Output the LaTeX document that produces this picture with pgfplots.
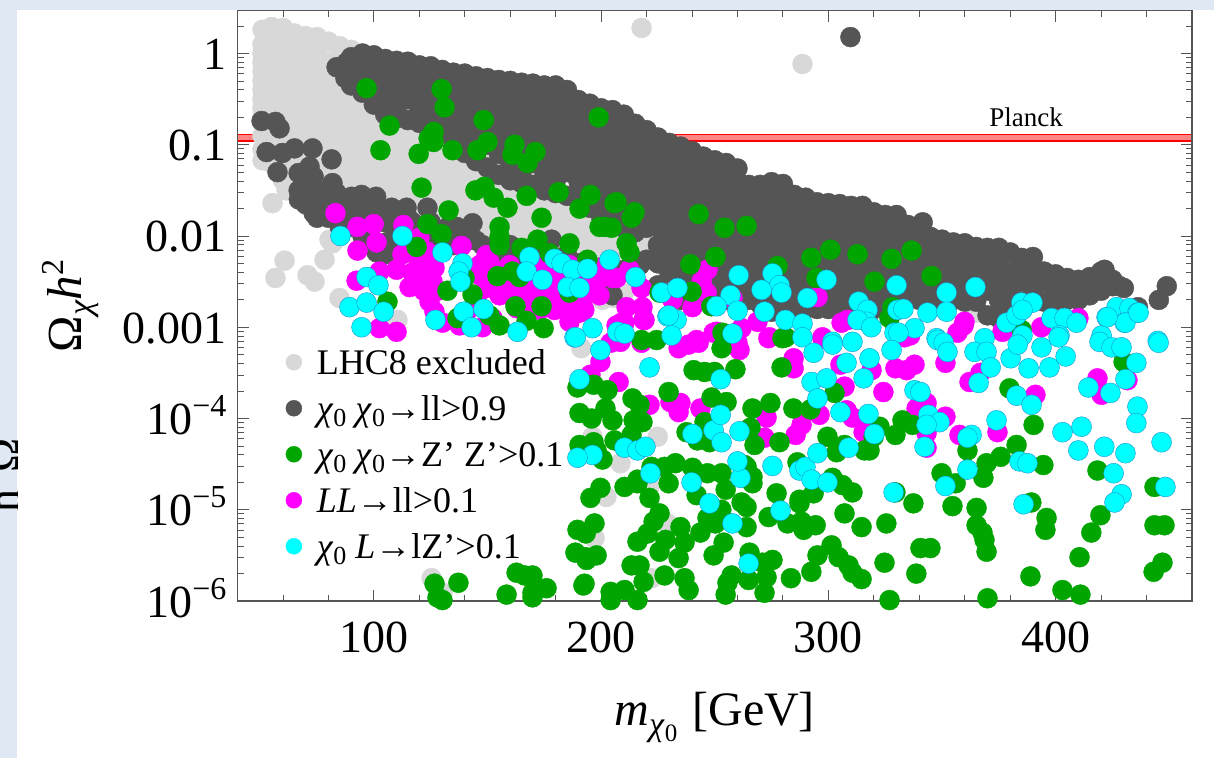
\documentclass[border=0pt]{standalone}
\usepackage{pgfplots}
\pgfplotsset{compat=1.18}
\usepackage{fontspec}
\setmainfont{Liberation Serif}
\definecolor{bgblue}{HTML}{E0E8F4}
\definecolor{ptgrey}{HTML}{D8D8D8}
\definecolor{ptdark}{HTML}{555555}
\definecolor{ptgreen}{HTML}{00A500}
\definecolor{ptmag}{HTML}{FF00FF}
\definecolor{ptcyan}{HTML}{00FFFF}
\definecolor{axisgrey}{HTML}{555555}
\newcommand{\tenexp}[1]{10\raisebox{18pt}{\fontsize{32}{32}\selectfont −#1}}
\newcommand{\chiz}{\textit{χ}\raisebox{-6pt}{\fontsize{26}{26}\selectfont 0}}
\newcommand{\lstrut}{\hspace*{15pt}}
\begin{document}
\begin{tikzpicture}[x=1pt,y=1pt]
\useasboundingbox (0,0) rectangle (1214,758);
\fill[bgblue] (0,0) rectangle (1214,758);
\fill[white] (17,0) rectangle (1214,748);
\begin{scope}
\clip (0,0) rectangle (17,758);
\node[rotate=90,anchor=base,inner sep=0pt,font=\fontsize{46}{46}\selectfont] at (20,283) {n\hspace{17pt}Ω};
\end{scope}
\begin{axis}[
  at={(237.5pt,157pt)},anchor=south west,
  width=954.5pt,height=590.3pt,scale only axis,
  xmin=40,xmax=460,ymin=-6,ymax=0.469,
  axis on top,
  axis line style={color=axisgrey,line width=1.1pt},
  tick style={color=axisgrey,line width=0.9pt},
  major tick length=11pt,minor tick length=6pt,
  xtick={100,200,300,400},xticklabels={100,200,300,400},
  minor xtick={60,80,120,140,160,180,220,240,260,280,320,340,360,380,420,440},
  ytick={-6,-5,-4,-3,-2,-1,0},
  yticklabels={\tenexp{6},\tenexp{5},\tenexp{4},0.001,0.01,0.1,1},
  minor ytick={-5.699,-5.523,-5.398,-5.301,-5.222,-5.155,-5.097,-5.046,
    -4.699,-4.523,-4.398,-4.301,-4.222,-4.155,-4.097,-4.046,
    -3.699,-3.523,-3.398,-3.301,-3.222,-3.155,-3.097,-3.046,
    -2.699,-2.523,-2.398,-2.301,-2.222,-2.155,-2.097,-2.046,
    -1.699,-1.523,-1.398,-1.301,-1.222,-1.155,-1.097,-1.046,
    -0.699,-0.523,-0.398,-0.301,-0.222,-0.155,-0.097,-0.046,0.301},
  tick label style={font=\fontsize{46}{46}\selectfont,inner sep=0pt},
  xticklabel style={anchor=base,yshift=-51pt},
  yticklabel style={anchor=base east,xshift=-11pt,yshift=-16pt},
  xlabel={\fontsize{48}{48}\selectfont\textit{m}\raisebox{-10pt}{\fontsize{34}{34}\selectfont\textit{χ}\raisebox{-6pt}{\fontsize{25}{25}\selectfont 0}}\hspace{15pt}[GeV]},
  ylabel={\fontsize{49}{49}\selectfont Ω\raisebox{-10pt}{\fontsize{34}{34}\selectfont\textit{χ}}\textit{h}\raisebox{18pt}{\fontsize{32}{32}\selectfont 2}},
  every axis x label/.style={at={(rel axis cs:0.5,0)},anchor=base,yshift=-124pt},
  every axis y label/.style={at={(rel axis cs:0,0.5)},rotate=90,anchor=base,yshift=155.5pt},
  pts/.style={only marks,mark=*,mark size=10pt,color=#1,mark options={draw=none,fill=#1}},
  legend image code/.code={\path[#1,mark size=8pt] plot coordinates {(0pt,5pt)};},
  legend style={at={(axis cs:61.2,-3.25)},anchor=north west,draw=none,fill=none,inner sep=0pt,
    font=\fontsize{36}{36}\selectfont,row sep=12pt,column sep=0pt,
    nodes={inner sep=0pt,text height=24pt,text depth=10pt}},
  legend cell align=left,
]
% LHC8 excluded
\addplot[pts=ptgrey] coordinates {
(51,.26)(51,.1)(51,0)(51,-.1)(51,-.2)(51,-.3)(51,-.4)(51,-.5)(51,-.6)(51,-.7)(51,-.9)(51,-1.05)(51,-1.17)
(55,.29)(55,.2)(55,0)(55,-.2)(55,-.4)(55,-.6)(55,-.8)(55,-1)(55,-1.2)
(60,.28)(60,.1)(60,-.1)(60,-.3)(60,-.5)(60,-.7)(60,-.9)(60,-1.1)(60,-1.39)
(65,.22)(65,0)(65,-.2)(65,-.4)(65,-.6)(65,-.8)(65,-1)(65,-1.2)(65,-1.5)
(70,.19)(70,.1)(70,-.1)(70,-.3)(70,-.5)(70,-.7)(70,-.9)(70,-1.1)(70,-1.3)(70,-1.66)
(75,.18)(75,0)(75,-.2)(75,-.4)(75,-.6)(75,-.8)(75,-1)(75,-1.2)(75,-1.4)(75,-1.6)
(80,.13)(80,-.1)(80,-.3)(80,-.5)(80,-.7)(80,-.9)(80,-1.1)(80,-1.3)(80,-1.5)(80,-1.7)
(85,.08)(85,0)(85,-.2)(85,-.4)(85,-.6)(85,-.8)(85,-1)(85,-1.2)(85,-1.4)(85,-1.6)
(90,.04)(90,-.1)(90,-.3)(90,-.5)(90,-.7)(90,-.9)(90,-1.1)(90,-1.3)(90,-1.5)(90,-1.7)
(95,-.2)(95,-.4)(95,-.6)(95,-.8)(95,-1)(95,-1.2)(95,-1.4)(95,-1.6)
(100,-.3)(100,-.5)(100,-.7)(100,-.9)(100,-1.1)(100,-1.3)(100,-1.5)(100,-1.7)
(105,-.6)(105,-.8)(105,-1)(105,-1.2)(105,-1.4)(105,-1.6)
(110,-.7)(110,-.9)(110,-1.1)(110,-1.3)(110,-1.5)(110,-1.7)
(115,-.6)(115,-.8)(115,-1)(115,-1.2)(115,-1.4)(115,-1.6)
(120,-.7)(120,-.9)(120,-1.1)(120,-1.3)(120,-1.5)(120,-1.7)
(125,-.8)(125,-1)(125,-1.2)(125,-1.4)(125,-1.6)
(130,-.9)(130,-1.1)(130,-1.3)(130,-1.5)(130,-1.7)
(135,-1)(135,-1.2)(135,-1.4)(135,-1.6)(135,-1.8)
(140,-1.1)(140,-1.3)(140,-1.5)(140,-1.7)
(145,-1.2)(145,-1.4)(145,-1.6)(145,-1.8)
(150,-1.1)(150,-1.3)(150,-1.5)(150,-1.7)(150,-1.9)
(155,-1.2)(155,-1.4)(155,-1.6)(155,-1.8)(155,-2)
(160,-1.3)(160,-1.5)(160,-1.7)(160,-1.9)(160,-2.1)
(165,-1.4)(165,-1.6)(165,-1.8)(165,-2)
(170,-1.3)(170,-1.5)(170,-1.7)(170,-1.9)(170,-2.1)
(175,-1.4)(175,-1.6)(175,-1.8)(175,-2)
(180,-1.5)(180,-1.7)(180,-1.9)(180,-2.1)
(185,-1.6)(185,-1.8)(185,-2)(185,-2.2)
(190,-1.7)(190,-1.9)(190,-2.1)
(195,-1.6)(195,-1.8)(195,-2)(195,-2.2)
(200,-1.7)(200,-1.9)(200,-2.1)
(205,-1.8)(205,-2)(205,-2.2)
(210,-1.9)(210,-2.1)(215,-2)(215,-2.1)(218.7,-2.09)
(200.6,-2.70)(206,-2.68)(210,-2.62)
(217.8,.28)(288.6,-.115)
(55.4,-1.64)(60.7,-2.27)(56.7,-2.46)(70.8,-2.43)(73.9,-2.50)(78.3,-2.26)(81.8,-2.08)(84.9,-2.68)(110.4,-2.92)(80.5,-2.04)(61.6,-1.50)
(191.3,-3.23)(196.2,-4.20)(224.9,-4.20)(208.5,-4.49)(202.3,-4.86)(197.1,-5.31)(221.3,-4.75)(229.2,-5.15)(222.2,-5.75)(190.5,-6.01)(198,-6.01)(130.2,-5.91)(125.4,-5.75)
(274.9,-2.72)(283.7,-2.71)(322.5,-2.79)(365.2,-2.84)(378.4,-2.79)(359.9,-2.65)
};
% chi0 chi0 -> ll
\addplot[pts=ptdark] coordinates {
(309.7,.18)
(83.6,-.15)(87.5,-.27)(88,-.1)
(90,-.04)(90,-.2)(90,-.35)
(95,0)(95,-.1)(95,-.3)(95,-.43)
(100,-.02)(100,-.2)(100,-.4)(100,-.56)
(105,-.06)(105,-.1)(105,-.3)(105,-.5)(105,-.67)
(110,-.08)(110,-.2)(110,-.4)(110,-.6)(110,-.71)
(115,-.09)(115,-.3)(115,-.5)(115,-.73)
(120,-.13)(120,-.2)(120,-.4)(120,-.6)(120,-.76)
(125,-.14)(125,-.3)(125,-.5)(125,-.7)(125,-.84)
(130,-.18)(130,-.4)(130,-.6)(130,-.8)(130,-.87)
(135,-.21)(135,-.3)(135,-.5)(135,-.7)(135,-.9)(135,-1.02)
(140,-.22)(140,-.4)(140,-.6)(140,-.8)(140,-1)(140,-1.09)
(145,-.25)(145,-.3)(145,-.5)(145,-.7)(145,-.9)(145,-1.1)(145,-1.18)
(150,-.27)(150,-.4)(150,-.6)(150,-.8)(150,-1)(150,-1.25)
(155,-.29)(155,-.5)(155,-.7)(155,-.9)(155,-1.1)(155,-1.33)
(160,-.30)(160,-.4)(160,-.6)(160,-.8)(160,-1)(160,-1.2)(160,-1.39)
(165,-.32)(165,-.5)(165,-.7)(165,-.9)(165,-1.1)(165,-1.3)(165,-1.42)
(170,-.33)(170,-.4)(170,-.6)(170,-.8)(170,-1)(170,-1.2)(170,-1.44)
(175,-.35)(175,-.5)(175,-.7)(175,-.9)(175,-1.1)(175,-1.3)(175,-1.5)
(180,-.35)(180,-.4)(180,-.6)(180,-.8)(180,-1)(180,-1.2)(180,-1.4)(180,-1.53)
(185,-.40)(185,-.5)(185,-.7)(185,-.9)(185,-1.1)(185,-1.3)(185,-1.56)
(190,-.51)(190,-.6)(190,-.8)(190,-1)(190,-1.2)(190,-1.4)(190,-1.61)
(195,-.55)(195,-.7)(195,-.9)(195,-1.1)(195,-1.3)(195,-1.5)(195,-1.69)
(200,-.60)(200,-.8)(200,-1)(200,-1.2)(200,-1.4)(200,-1.6)(200,-1.79)
(205,-.62)(205,-.7)(205,-.9)(205,-1.1)(205,-1.3)(205,-1.5)(205,-1.7)(205,-1.85)
(210,-.67)(210,-.8)(210,-1)(210,-1.2)(210,-1.4)(210,-1.6)(210,-1.8)(210,-1.91)
(215,-.77)(215,-.9)(215,-1.1)(215,-1.3)(215,-1.5)(215,-1.7)(215,-1.96)
(220,-.84)(220,-1)(220,-1.2)(220,-1.4)(220,-1.6)(220,-1.8)(220,-1.91)(220,-2.26)
(225,-.92)(225,-1.1)(225,-1.3)(225,-1.5)(225,-1.7)(225,-1.9)(225,-2.1)(225,-2.3)(225,-2.54)
(230,-.98)(230,-1.2)(230,-1.4)(230,-1.6)(230,-1.8)(230,-2)(230,-2.2)(230,-2.4)(230,-2.65)
(235,-1.02)(235,-1.1)(235,-1.3)(235,-1.5)(235,-1.7)(235,-1.9)(235,-2.1)(235,-2.3)(235,-2.5)(235,-2.7)
(240,-1.07)(240,-1.2)(240,-1.4)(240,-1.6)(240,-1.8)(240,-2)(240,-2.2)(240,-2.4)(240,-2.6)(240,-2.7)
(245,-1.13)(245,-1.3)(245,-1.5)(245,-1.7)(245,-1.9)(245,-2.1)(245,-2.3)(245,-2.5)(245,-2.7)
(250,-1.17)(250,-1.2)(250,-1.4)(250,-1.6)(250,-1.8)(250,-2)(250,-2.2)(250,-2.4)(250,-2.6)(250,-2.7)
(255,-1.20)(255,-1.3)(255,-1.5)(255,-1.7)(255,-1.9)(255,-2.1)(255,-2.3)(255,-2.5)(255,-2.7)
(260,-1.26)(260,-1.4)(260,-1.6)(260,-1.8)(260,-2)(260,-2.2)(260,-2.4)(260,-2.6)(260,-2.75)
(265,-1.44)(265,-1.5)(265,-1.7)(265,-1.9)(265,-2.1)(265,-2.3)(265,-2.5)(265,-2.7)
(270,-1.44)(270,-1.6)(270,-1.8)(270,-2)(270,-2.2)(270,-2.4)(270,-2.6)(270,-2.75)
(275,-1.41)(275,-1.5)(275,-1.7)(275,-1.9)(275,-2.1)(275,-2.3)(275,-2.5)(275,-2.7)(275,-2.83)
(280,-1.43)(280,-1.6)(280,-1.8)(280,-2)(280,-2.2)(280,-2.4)(280,-2.6)(280,-2.8)
(285,-1.55)(285,-1.7)(285,-1.9)(285,-2.1)(285,-2.3)(285,-2.5)(285,-2.7)(285,-2.8)
(290,-1.58)(290,-1.6)(290,-1.8)(290,-2)(290,-2.2)(290,-2.4)(290,-2.6)(290,-2.8)
(295,-1.63)(295,-1.7)(295,-1.9)(295,-2.1)(295,-2.3)(295,-2.5)(295,-2.7)(295,-2.8)
(300,-1.64)(300,-1.8)(300,-2)(300,-2.2)(300,-2.4)(300,-2.6)(300,-2.8)
(305,-1.65)(305,-1.7)(305,-1.9)(305,-2.1)(305,-2.3)(305,-2.5)(305,-2.7)(305,-2.8)
(310,-1.67)(310,-1.8)(310,-2)(310,-2.2)(310,-2.4)(310,-2.6)(310,-2.8)
(315,-1.67)(315,-1.7)(315,-1.9)(315,-2.1)(315,-2.3)(315,-2.5)(315,-2.7)(315,-2.8)
(320,-1.74)(320,-1.8)(320,-2)(320,-2.2)(320,-2.4)(320,-2.6)(320,-2.8)
(325,-1.77)(325,-1.9)(325,-2.1)(325,-2.3)(325,-2.5)(325,-2.7)
(330,-1.77)(330,-1.8)(330,-2)(330,-2.2)(330,-2.4)(330,-2.6)(330,-2.75)
(335,-1.88)(335,-1.9)(335,-2.1)(335,-2.3)(335,-2.5)(335,-2.7)
(340,-1.96)(340,-2)(340,-2.2)(340,-2.4)(340,-2.6)(340,-2.7)
(345,-2.01)(345,-2.1)(345,-2.3)(345,-2.5)(345,-2.7)
(350,-2.04)(350,-2.2)(350,-2.4)(350,-2.6)(350,-2.75)
(355,-2.07)(355,-2.1)(355,-2.3)(355,-2.5)(355,-2.7)
(360,-2.08)(360,-2.2)(360,-2.4)(360,-2.6)(360,-2.72)
(365,-2.12)(365,-2.3)(365,-2.5)(365,-2.72)
(370,-2.13)(370,-2.2)(370,-2.4)(370,-2.6)(370,-2.87)
(375,-2.13)(375,-2.3)(375,-2.5)(375,-2.7)(375,-2.9)
(380,-2.18)(380,-2.4)(380,-2.6)(380,-2.76)
(385,-2.24)(385,-2.3)(385,-2.5)(385,-2.72)
(390,-2.23)(390,-2.4)(390,-2.6)(390,-2.72)
(395,-2.39)(395,-2.5)(395,-2.72)
(400,-2.42)(400,-2.6)(400,-2.70)
(405,-2.46)(405,-2.5)(405,-2.70)
(410,-2.48)(410,-2.6)(410,-2.70)
(415,-2.45)(415,-2.5)(415,-2.65)
(420,-2.39)(420,-2.6)
(425,-2.48)(425,-2.55)
(428.2,-2.55)(436.2,-2.78)(445.4,-2.70)(448.9,-2.55)(421.5,-2.37)(430,-2.57)(341.5,-1.85)(334.4,-1.88)
(50.6,-.74)(56.7,-.75)(58.5,-.82)(52.8,-1.08)(59.8,-1.09)(65.1,-1.04)(73,-1.04)(81.4,-1.16)(57.6,-1.30)
(66.9,-1.31)(71.7,-1.24)(73.5,-1.35)(66.9,-1.50)(71.7,-1.53)(81.8,-1.42)(83.6,-1.53)(90.2,-1.57)(94.6,-1.55)(101,-1.57)
(75.2,-1.68)(73.5,-1.75)(78.3,-1.61)(81.8,-1.68)(90.2,-1.68)(96.8,-1.68)(87,-1.68)
(101.2,-2.18)(98.1,-1.96)(105.6,-2.07)(90.6,-1.77)(84.9,-1.77)(95,-1.77)(101.6,-1.69)(107.8,-1.69)(114.4,-1.69)(123.6,-1.69)
(109,-1.91)(117,-1.85)(120,-1.91)(136.4,-1.90)(143.4,-1.86)(132,-1.91)(147.8,-2.10)(158.4,-2.23)(178.2,-2.04)(169.8,-2.13)
(187.4,-2.29)(200.6,-2.34)(203.7,-2.54)(205,-2.65)(155.3,-2.04)
(203.7,-2.32)(210.3,-2.37)(217,-2.32)
(67,-1.6)(70,-1.4)(70,-1.65)(75,-1.5)(75,-1.8)(80,-1.55)(80,-1.8)(85,-1.6)(85,-1.9)(90,-1.9)(95,-1.6)(95,-2.0)(100,-1.8)(100,-2.05)
(105,-1.85)(105,-2.2)(110,-1.75)(110,-2.05)(115,-1.8)(115,-2.0)(120,-2.1)(125,-1.85)(125,-2.05)(130,-2.1)(135,-2.1)(140,-2.05)(145,-2.05)
(150,-2.2)(155,-2.2)(160,-2.1)(165,-2.2)(175,-2.2)(185,-2.2)(190,-2.3)(195,-2.4)(200,-2.5)
};
% LL -> ll is drawn under the green series; its legend sample is added below
\addplot[pts=ptmag,forget plot] coordinates {
(83.1,-1.75)(92.8,-1.90)(99.9,-1.87)(113,-1.88)(101.2,-2.07)(92.8,-2.16)(112.6,-2.20)(102.5,-2.39)(110,-2.37)(92.4,-2.49)
(120,-2.02)(123.2,-2.17)(121.4,-2.32)(126.7,-2.35)(115.7,-2.56)(121.4,-2.46)(125.8,-2.50)(124.5,-2.72)(126.7,-2.83)(130.2,-2.95)
(138.6,-2.11)(102.5,-3.01)(110,-3.05)(150.9,-2.29)(146.5,-2.43)(149.6,-2.57)(155.3,-2.65)(164.1,-2.61)(171.6,-2.61)(178.6,-2.57)
(186.1,-2.57)(193.6,-2.61)(197.1,-2.61)(186.1,-2.79)(191.8,-2.76)(186.1,-2.94)(205,-2.46)(206.8,-2.98)(137.7,-2.98)(140.8,-2.83)
(152.2,-2.90)(147.8,-3.0)(145.2,-2.68)(162.8,-2.79)(172.9,-2.81)(167.1,-2.68)(154,-2.39)(178.6,-2.43)(193.6,-2.46)(198,-2.50)
(171.6,-2.39)(158.4,-2.43)(149.6,-2.21)
(146.5,-2.32)(153,-2.48)(159.7,-2.48)(166.3,-2.48)(172.9,-2.48)(179.5,-2.48)(186,-2.48)(192.6,-2.48)(199.3,-2.65)(159.7,-2.65)(166.3,-2.81)
(179.5,-2.65)(192.6,-2.81)(179.5,-2.81)(199.3,-2.35)(172.9,-2.65)(186,-2.32)(159.7,-2.32)(172.9,-2.32)(117,-2.4)(118,-2.2)(125,-2.2)(128,-2.6)(122,-2.6)
(206.8,-2.46)(212.5,-2.37)(246.8,-2.37)(244.2,-2.50)(217.8,-2.57)(211.2,-2.78)(218.2,-2.78)(219.1,-2.92)(209,-2.95)(231.4,-2.70)
(246.4,-2.62)(240.2,-2.78)(257.8,-2.68)(295.2,-2.67)(305.8,-2.95)(308.4,-2.92)(268.8,-2.94)(261.8,-3.01)(250.8,-3.05)(274.1,-3.11)
(297.4,-3.11)(242,-3.14)(359.9,-2.94)(356.8,-3.06)(376.6,-3.05)(393.7,-3.0)(410,-2.90)
(190.5,-2.84)(210.3,-2.95)(218.7,-2.92)(208.5,-3.16)(217.8,-3.17)(199.7,-3.38)(195.3,-3.52)(207.7,-3.60)(221.3,-3.85)(230.5,-3.82)
(234.1,-3.93)(234.9,-3.83)(243.7,-3.89)(234.1,-3.23)(238.5,-3.19)(242.9,-3.17)(249.5,-3.06)(260,-3.17)(273.6,-3.12)(260.9,-3.25)
(284.7,-3.34)(284.7,-3.45)(297.4,-3.12)(305.3,-3.41)(319,-3.47)(329.5,-3.45)(337.9,-3.41)(334.4,-3.47)(307.1,-3.65)(310.6,-3.99)
(316.3,-4.13)(308,-3.91)(324.2,-3.71)(272.8,-3.99)(271.9,-4.21)(285.6,-4.18)(288.2,-4.07)(296.1,-3.96)(343.2,-3.83)(338.8,-3.89)
(351.5,-3.98)(343.2,-4.16)(343.2,-4.32)(357.7,-4.18)(374.4,-4.15)(359.5,-2.98)(351.5,-3.39)(362.1,-3.60)(366.9,-3.50)(391.1,-3.74)
(418.4,-3.56)(420.2,-3.74)(431.6,-3.58)(336,-3.09)(333.5,-3.11)(315.5,-4.15)(204.2,-3.17)
};
\addplot[pts=ptgreen] coordinates {
(96.8,-.38)(129.8,-.39)(131.1,-.59)(148.3,-.73)(106.9,-.79)(126.3,-.86)(124.1,-.93)(126.3,-.97)(150,-.97)(161.9,-1.0)
(161,-1.11)(102.9,-1.06)(119.7,-1.10)(134.6,-1.06)(145.6,-1.06)(171.1,-1.08)(167.6,-1.20)(198.9,-.70)(121,-1.47)(144.7,-1.50)
(148.7,-1.46)(152.7,-1.58)(158.8,-1.69)(167.2,-1.56)(181.3,-1.52)(195.3,-1.55)(190.5,-1.70)(173.8,-1.80)(132.9,-1.72)(199.3,-1.90)
(123.6,-1.87)(129.8,-1.98)(118.8,-2.12)(106,-2.72)(205.9,-1.64)(201.5,-1.90)(204.6,-1.91)(155.3,-1.90)(155.3,-2.01)(155.3,-2.10)
(165,-2.13)(172,-2.04)(177.3,-2.19)(186.1,-2.08)(194,-2.26)(154.4,-2.44)(161,-2.39)(164.1,-2.45)(132.4,-2.60)(143.4,-2.64)
(136.8,-2.90)(139.9,-2.46)(162.3,-2.77)(173.8,-2.77)(186.1,-2.62)(167.2,-2.93)(174.7,-3.01)(155.3,-2.98)(150.9,-2.87)
(206.8,-1.63)(213.4,-1.80)(214.7,-1.74)(211.2,-2.08)(212.5,-2.18)(242.9,-1.76)(254.3,-1.91)(264,-1.89)(239.3,-2.31)(250.3,-2.23)
(225.7,-2.62)(239.8,-2.61)(248.5,-2.77)(277.6,-2.33)(292.5,-2.24)(300.9,-2.15)(312.8,-2.20)(327.8,-2.25)(294.8,-2.46)(320.3,-2.50)
(328.2,-2.78)(326.9,-2.90)(253.4,-3.06)(281.2,-3.11)(217.8,-3.14)(224.4,-3.14)(336.6,-2.16)(345.4,-2.44)(385,-3.03)
(253,-3.23)(279.8,-3.12)(240.7,-3.47)(245.5,-3.49)(249.9,-3.49)(259.1,-3.46)(279.4,-3.44)(189.6,-3.66)(196.7,-3.63)(202.8,-3.69)
(190.5,-3.94)(195.8,-4.0)(201.9,-3.89)(205,-4.02)(213.8,-3.78)(216.9,-3.85)(214.3,-4.02)(218.2,-4.04)(229.7,-3.71)(248.6,-3.77)
(255.2,-3.82)(266.6,-3.89)(274.5,-3.83)(284.6,-3.89)(292.1,-3.90)(302.7,-3.72)(237.6,-4.15)(245.5,-4.04)(242.4,-4.24)(247.7,-4.26)
(265.7,-4.10)(267.5,-4.29)(278.5,-4.26)(299.6,-4.20)(303.6,-4.37)(315.9,-4.35)(286.4,-4.48)(190.5,-4.29)(196.7,-4.26)(205.9,-4.24)
(200.6,-4.45)(198,-4.35)(213.4,-4.18)(222.2,-4.53)(227.9,-4.53)(232.7,-4.49)(240.2,-4.54)(246.8,-4.60)(253,-4.60)(264,-4.53)
(266.6,-4.64)(216,-4.67)(301.8,-4.65)
(199.7,-4.76)(195.3,-4.87)(210.3,-4.75)(216,-4.71)(221.3,-4.87)(229.7,-4.71)(242,-4.84)(254.8,-4.78)(261.8,-4.92)(266.6,-4.71)
(277.2,-4.82)(293.5,-4.82)(287.3,-4.89)(306.2,-4.73)(310.6,-4.81)(197.1,-5.15)(193.2,-5.26)(189.6,-5.22)(225.7,-5.04)(223.1,-5.13)
(220.4,-5.26)(216,-5.35)(228.3,-5.33)(225.7,-5.46)(234.9,-5.19)(236.7,-5.36)(234.1,-5.53)(243.7,-5.25)(246.8,-5.09)(250.3,-5.15)
(252.9,-5.0)(264,-5.19)(264,-4.97)(253.9,-5.36)(249.5,-5.50)(273.7,-5.08)(282,-5.15)(287.3,-4.93)(288.2,-5.13)(289.1,-5.22)
(294.4,-5.17)(307.1,-5.04)(314.6,-5.19)(325.5,-5.15)(337.4,-4.93)(354.6,-4.96)(365.2,-4.98)(365.2,-5.17)(367.8,-5.25)(368.7,-5.33)
(369.6,-5.46)(396,-5.09)(395.5,-5.22)(389.3,-4.92)(419.7,-5.06)(415.7,-5.25)(443.5,-5.17)(447.9,-5.17)(443.5,-4.75)(394.6,-4.51)
(418.4,-4.57)(390.3,-4.07)(382.8,-4.29)(375.8,-4.42)(379.7,-3.67)(429.9,-3.38)(349.8,-4.60)(356,-4.71)(368.2,-4.65)(369.6,-4.49)
(361.2,-4.35)(329.5,-4.81)(318.1,-4.35)(319.9,-4.20)(329.5,-4.18)(332.6,-4.02)(337,-4.07)(322.5,-4.09)(307.1,-4.29)(263.1,-4.51)
(213.4,-5.61)(216.9,-5.61)(218.7,-5.79)(210.3,-5.88)(204.2,-5.90)(204.2,-5.99)(216,-5.99)(192.2,-5.83)(227.9,-5.72)(236.7,-5.75)
(238.5,-5.88)(265.3,-5.47)(271,-5.58)(275.4,-5.55)(257.4,-5.72)(264.9,-5.77)(255.6,-5.80)(254.8,-5.93)(272.8,-5.74)(271.9,-5.91)
(283.5,-5.75)(292.5,-5.68)(295.2,-5.50)(301.4,-5.39)(304.5,-5.52)(308.9,-5.61)(310.6,-5.69)(314.6,-5.76)(289.1,-6.02)(324.7,-5.58)
(326.9,-5.99)(340.9,-6.01)(338.7,-5.70)(340.5,-5.42)(344.9,-5.42)(370,-5.97)(379.7,-6.01)(388.9,-5.73)(403,-5.88)(410.9,-5.93)
(410.5,-5.52)(443.1,-5.68)(447,-5.58)(193.2,-5.52)(198,-5.50)(188.7,-5.47)(126.7,-5.81)(137.2,-5.80)(128,-5.96)(130.2,-5.99)
(143.4,-6.04)(158.4,-5.93)(169.8,-5.91)(176,-5.86)(169.8,-5.96)(192.7,-5.81)(162.8,-5.69)(169.8,-5.72)(166.3,-5.72)(193.6,-5.55)
};
\addplot[pts=ptcyan,mark options={draw=black!10!cyan!85!blue,line width=.4pt,fill=ptcyan},forget plot] coordinates {
(85.3,-2.0)(112.6,-2.0)(130.2,-2.18)(139,-2.30)(137.3,-2.39)(138.1,-2.50)(96.8,-2.45)(102,-2.54)(89.3,-2.78)(96.8,-2.73)
(104.3,-2.83)(127.1,-2.92)(139.5,-2.83)(148.3,-2.80)(143,-3.0)(94.6,-3.0)(163.2,-3.05)(168.5,-2.23)(167.2,-2.39)(179.5,-2.25)
(182.6,-2.30)(174.2,-2.48)(187.4,-2.37)(194,-2.36)(185.2,-2.56)(190.5,-2.57)(203.7,-2.26)(196.2,-3.01)(188.3,-3.11)(207.2,-3.05)
(215.1,-2.45)(226.6,-2.62)(233.6,-2.57)(260.5,-2.43)(275.4,-2.41)(278.5,-2.54)(270.6,-2.59)(279.4,-2.62)(256.9,-2.65)(250.8,-2.77)
(260,-2.82)(271.9,-2.83)(229.2,-2.88)(233.2,-2.92)(231,-3.09)(210.3,-3.07)(281.1,-2.92)(288.6,-2.96)(290.8,-2.68)(299.2,-2.48)
(313.3,-2.72)(317.2,-2.81)(316.8,-2.94)(312.8,-2.92)(318.9,-3.0)(257.8,-3.07)(330,-2.54)(329.1,-3.06)(330.4,-2.81)(301.8,-3.16)
(310.6,-3.16)(288.6,-3.11)(333,-2.80)(352,-2.62)(343.6,-2.84)(352,-2.83)(364.7,-2.56)(337.9,-3.01)(330.8,-3.06)(347.6,-3.12)
(368.7,-3.12)(385.4,-3.09)(378.4,-2.95)(384.9,-2.73)(389.8,-2.73)(382.8,-2.87)(385.4,-2.81)(398.2,-2.90)(403.9,-2.90)(409.2,-2.95)
(401.7,-3.09)(422.4,-2.89)(426.8,-2.78)(432.5,-2.79)(436,-2.84)(430.3,-2.95)(420.2,-3.09)(444.9,-3.15)
(188.8,-3.11)(199.7,-3.25)(221.3,-3.44)(229.7,-2.87)(293.5,-3.28)(301.8,-3.19)(318.1,-3.34)(308,-3.39)(315.5,-3.56)(292.6,-3.60)
(299.2,-3.56)(295.2,-3.78)(305.3,-3.93)(317.6,-3.95)(320.2,-4.17)(344,-3.96)(348.9,-4.04)(343.2,-4.07)(342.3,-4.31)(337.9,-3.69)
(340.5,-3.71)(327.8,-3.25)(348,-3.14)(350.7,-3.17)(352.4,-3.27)(364.3,-3.27)(369.6,-3.27)(371.4,-3.44)(366.1,-3.61)(363,-4.18)
(361.2,-4.21)(374,-4.02)(380.2,-3.34)(383.3,-3.19)(388.1,-3.45)(382.8,-3.75)(389.4,-3.85)(393.8,-3.22)(397.3,-3.44)(404.4,-3.32)
(401.3,-3.11)(419.3,-3.16)(424.6,-3.22)(429,-3.22)(430.7,-2.95)(436.5,-2.84)(422.8,-2.89)(435.5,-3.39)(430.7,-3.57)(414.4,-3.66)
(424.1,-3.72)(445.3,-3.17)(436,-3.87)(435.5,-4.05)(403,-4.15)(411.4,-4.09)(446.6,-4.26)(410,-4.35)(421.4,-4.31)(430.7,-4.38)
(425.5,-4.60)(384.1,-4.47)(387.6,-4.49)(361.2,-4.56)(351.5,-4.74)(385.9,-4.94)(429,-4.83)(425.9,-4.92)(448.3,-4.75)(328.7,-4.81)
(247.7,-4.93)(239.8,-4.70)(221.7,-4.60)(257.8,-5.15)(261.3,-4.65)(260,-4.47)(275.4,-4.52)(287.3,-4.57)(289.9,-4.53)(292.6,-4.67)
(299.6,-4.70)(295.2,-4.38)(308.9,-4.32)(278.9,-5.01)(264.9,-5.59)(240.2,-4.17)(249.5,-4.13)(253,-4.26)(252.6,-3.96)(260.9,-4.14)
(210.3,-4.32)(216,-4.35)(219.5,-4.31)(196.2,-4.40)(189.6,-4.43)(190.5,-3.57)(252.6,-3.57)
};
\fill[white] (axis cs:40,-3.05) rectangle (axis cs:187.9,-5.69);
\addplot[color=red!60!white,line width=5pt,opacity=.8,forget plot] coordinates {(40,-.925)(460,-.925)};
\addplot[color=red,line width=1.3pt,forget plot] coordinates {(40,-.89)(460,-.89)};
\addplot[color=red,line width=1.3pt,forget plot] coordinates {(40,-.96)(460,-.96)};
\node[font=\fontsize{27}{27}\selectfont,inner sep=0pt] at (axis cs:387,-.70) {Planck};
\addlegendimage{pts=ptmag}
\addlegendimage{pts=ptcyan}
\legend{\lstrut LHC8 excluded,\lstrut\chiz\ \chiz→ll>0.9,\lstrut\chiz\ \chiz→Z' Z'>0.1,\lstrut\textit{LL}→ll>0.1,\lstrut\chiz\ \textit{L}→lZ'>0.1}
\end{axis}
\end{tikzpicture}
\end{document}
